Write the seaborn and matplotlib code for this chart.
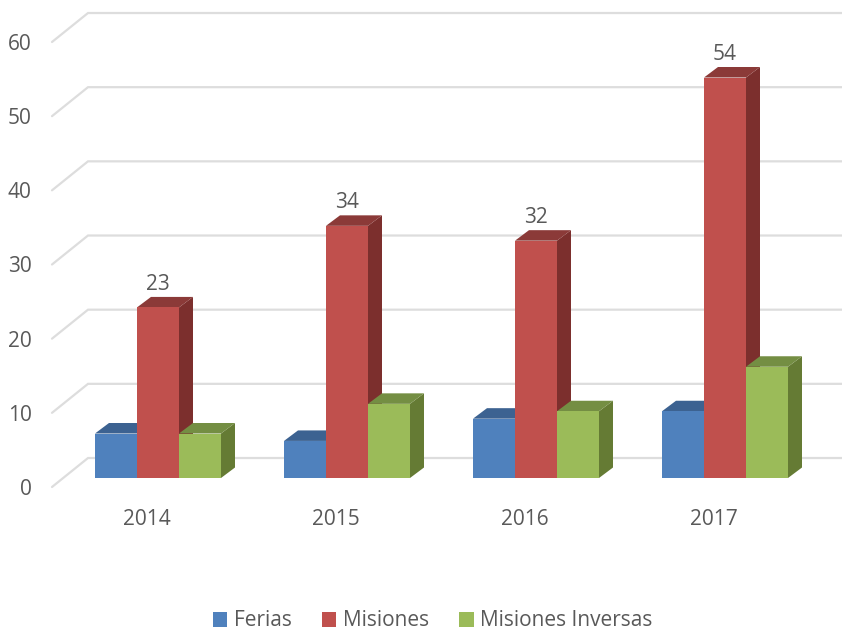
import matplotlib
matplotlib.use("Agg")
import matplotlib.pyplot as plt
from matplotlib.patches import Polygon
from matplotlib.transforms import ScaledTranslation
import pandas as pd
import seaborn as sns

years = ["2014", "2015", "2016", "2017"]
ferias = [6, 5, 8, 9]
misiones = [23, 34, 32, 54]
inversas = [6, 10, 9, 15]
y_ticks = [0, 10, 20, 30, 40, 50, 60]

series = ["Ferias", "Misiones", "Misiones Inversas"]
front_colors = ["#4F81BD", "#C0504D", "#9BBB59"]
top_colors = ["#3C6291", "#8B3A38", "#748E43"]
side_colors = ["#2F4E74", "#7C2F2D", "#657B34"]
text_color = "#595959"
grid_color = "#DDDDDD"

sns.set_style("white")
plt.rcParams["font.family"] = ["Open Sans", "DejaVu Sans"]

df = pd.DataFrame({
    "year": years * 3,
    "serie": [s for s in series for _ in years],
    "value": ferias + misiones + inversas,
})

fig = plt.figure(figsize=(8.42, 6.30), dpi=100)
# axes box = front plane of the bars, in pixels of the 842x630 picture
ax = fig.add_axes([63.5 / 842, (630 - 478) / 630, 756 / 842, 445 / 630])

sns.barplot(data=df, x="year", y="value", hue="serie", palette=front_colors,
            width=2 / 3, gap=0, saturation=1, linewidth=0, ax=ax)

ax.set_xlim(-0.5, 3.5)
ax.set_ylim(0, 60)
ax.set_xlabel("")
ax.set_ylabel("")
sns.despine(ax=ax, left=True, bottom=True)

px_x = 1 / 189
px_y = 1 / 7.42


def px_to_x(px):
    return (px - 63.5) * px_x - 0.5


# gridlines: flat back wall + slanted bit going to the tick label
for v in y_ticks:
    xs = [px_to_x(52), px_to_x(88), px_to_x(842)]
    ys = [v - 9 * px_y, v + 20 * px_y, v + 20 * px_y]
    ax.plot(xs, ys, color=grid_color, lw=1.6, clip_on=False, zorder=1,
            solid_joinstyle="miter")

# fake 3d faces on each bar
dx = 14 * px_x
dy = 10.5 * px_y
for cont, top_c, side_c in zip(ax.containers[:3], top_colors, side_colors):
    for bar in cont:
        x0 = bar.get_x()
        x1 = x0 + bar.get_width()
        h = bar.get_height()
        z = 3 + bar.get_x() * 10 + 10
        top = Polygon([(x0, h), (x0 + dx, h + dy), (x1 + dx, h + dy), (x1, h)],
                      closed=True, fc=top_c, ec="none", zorder=z, clip_on=False)
        side = Polygon([(x1, 0), (x1 + dx, dy), (x1 + dx, h + dy), (x1, h)],
                       closed=True, fc=side_c, ec="none", zorder=z, clip_on=False)
        ax.add_patch(side)
        ax.add_patch(top)
        bar.set_zorder(z + 0.1)
        bar.set_clip_on(False)

# only Misiones has value labels
labels = ax.bar_label(ax.containers[1], padding=9, color=text_color, fontsize=15)
for t in labels:
    t.set_zorder(50)

ax.set_yticks(y_ticks)
ax.tick_params(axis="y", length=0, pad=23, labelsize=15, labelcolor=text_color)
ax.tick_params(axis="x", length=0, pad=22, labelsize=15, labelcolor=text_color)

off_y = ScaledTranslation(0, -9 / 100, fig.dpi_scale_trans)
for lab in ax.get_yticklabels():
    lab.set_transform(lab.get_transform() + off_y)
off_x = ScaledTranslation(-11 / 100, 0, fig.dpi_scale_trans)
for lab in ax.get_xticklabels():
    lab.set_transform(lab.get_transform() + off_x)

handles, names = ax.get_legend_handles_labels()
ax.legend(handles, names, loc="center", bbox_to_anchor=(432.5 / 842, 1 - 621 / 630),
          bbox_transform=fig.transFigure, ncol=3, frameon=False, fontsize=15,
          labelcolor=text_color, handlelength=0.7, handleheight=0.7,
          handletextpad=0.3, columnspacing=1.45, borderpad=0)

fig.savefig("out.png", dpi=100)
